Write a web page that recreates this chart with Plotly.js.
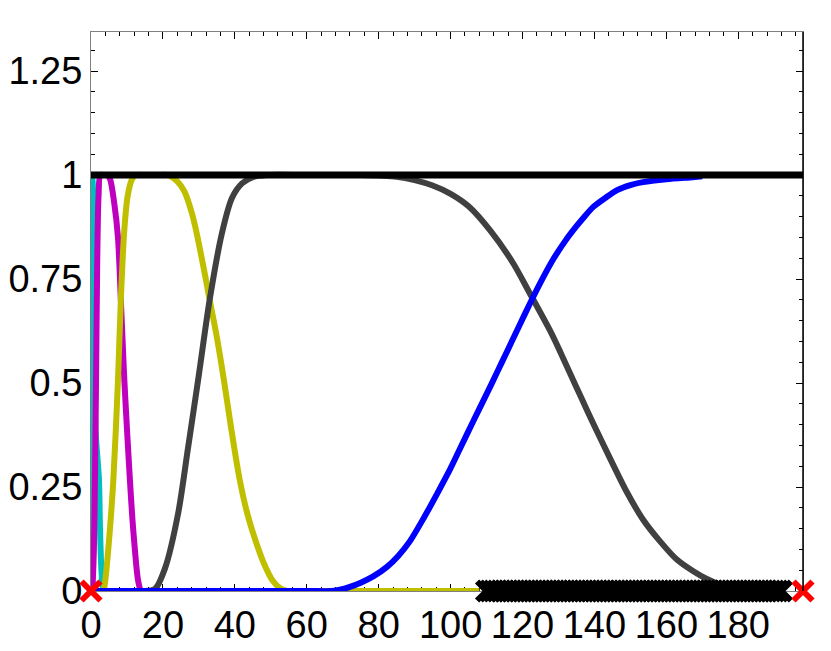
<!DOCTYPE html>
<html>
<head>
<meta charset="utf-8">
<script src="https://cdn.plot.ly/plotly-3.0.1.min.js"></script>
<style>html,body{margin:0;padding:0;background:#fff;}#chart{width:831px;height:651px;}</style>
</head>
<body>
<div id="chart"></div>
<script>
// ---- data ----
const cyanX = [0, 0.05, 0.4, 0.7, 0.9, 1.3, 2.2, 2.5, 2.9, 3.3, 3.8];
const cyanY = [0, 1, 0.99, 0.75, 0.5, 0.38, 0.27, 0.15, 0.05, 0.01, 0];

const magentaX = [0.4, 0.8, 1.1, 1.4, 1.7, 2.1, 2.6, 3.5, 4.5, 5.3, 6.5, 7.5, 8.3, 9.2, 10.0, 10.8, 11.5, 12.2, 13.1, 14, 16];
const magentaY = [0, 0.1, 0.27, 0.5, 0.77, 0.95, 1, 1, 1, 0.99, 0.93, 0.85, 0.7, 0.52, 0.39, 0.27, 0.175, 0.1, 0.025, 0, 0];

const yellowX = [3.5, 3.9, 5, 6.2, 7.5, 8.3, 9.2, 10.2, 11.4, 12.5, 15, 18, 21.4, 24, 26, 28, 29.4, 31.7, 33, 35, 37, 39, 41.3, 43.5, 46, 48.4, 50.5, 52.5, 54.5, 60, 80, 100, 108];
const yellowY = [0, 0.02, 0.12, 0.265, 0.506, 0.7, 0.86, 0.95, 0.99, 1, 1, 1, 1, 0.985, 0.96, 0.91, 0.86, 0.76, 0.7, 0.61, 0.505, 0.39, 0.27, 0.185, 0.115, 0.06, 0.025, 0.007, 0, 0, 0, 0, 0];

const grayX = [15, 17.8, 20.6, 24.2, 27, 30, 33, 36.4, 39.2, 42, 45, 49, 60, 75, 85, 90, 95, 100, 105, 111, 117.4, 122, 127.6, 130.6, 133.5, 136, 139.6, 144, 149, 153.5, 158.2, 163, 167.4, 171, 175, 180, 185];
const grayY = [0, 0.005, 0.055, 0.185, 0.345, 0.52, 0.7, 0.86, 0.945, 0.98, 0.995, 1, 1, 1, 0.996, 0.988, 0.975, 0.955, 0.925, 0.867, 0.788, 0.716, 0.627, 0.573, 0.518, 0.471, 0.404, 0.325, 0.238, 0.172, 0.12, 0.075, 0.048, 0.03, 0.015, 0.003, 0];

const blueX = [0, 20, 40, 60, 67, 69.2, 72, 75, 78.5, 82.3, 85.5, 88.7, 92.5, 96.2, 99.4, 102.6, 106.4, 110.1, 113, 115.7, 119, 122, 125.2, 128.5, 132, 135, 137.5, 139.6, 143, 146.3, 150, 153.5, 160, 167.4, 170];
const blueY = [0, 0, 0, 0, 0, 0.003, 0.01, 0.02, 0.035, 0.058, 0.085, 0.12, 0.175, 0.233, 0.285, 0.342, 0.41, 0.475, 0.527, 0.576, 0.636, 0.69, 0.745, 0.797, 0.843, 0.877, 0.903, 0.923, 0.945, 0.964, 0.976, 0.983, 0.99, 0.995, 0.997];

const totalX = [0, 198];
const totalY = [1, 1];

const blackMarkX = [110,111,112,113,114,115,116,117,118,119,120,121,122,123,124,125,126,127,128,129,130,131,132,133,134,135,136,137,138,139,140,141,142,143,144,145,146,147,148,149,150,151,152,153,154,155,156,157,158,159,160,161,162,163,164,165,166,167,168,169,170,171,172,173,174,175,176,177,178,179,180,181,182,183,184,185,186,187,188,189,190,191,192];
const blackMarkY = blackMarkX.map(() => 0);

const redMarkX = [0, 198];
const redMarkY = [0, 0];

const xTickVals = [0, 20, 40, 60, 80, 100, 120, 140, 160, 180];
const yTickVals = [0, 0.25, 0.5, 0.75, 1, 1.25];
const yTickText = ['0', '0.25', '0.5', '0.75', '1', '1.25'];

// ---- traces ----
function lineTrace(x, y, color, width) {
  return {x: x, y: y, mode: 'lines', type: 'scatter',
          line: {color: color, width: width, shape: 'spline', smoothing: 0.8}, hoverinfo: 'skip'};
}
const traces = [
  lineTrace(cyanX, cyanY, '#00bfbf', 6),
  lineTrace(magentaX, magentaY, '#bf00bf', 6),
  lineTrace(yellowX, yellowY, '#bfbf00', 6),
  lineTrace(grayX, grayY, '#404040', 6),
  lineTrace(blueX, blueY, '#0000ff', 6),
  {x: totalX, y: totalY, mode: 'lines', type: 'scatter', line: {color: '#000', width: 7}},
  {x: blackMarkX, y: blackMarkY, mode: 'markers', type: 'scatter', cliponaxis: false,
   marker: {symbol: 'x-thin', size: 19, color: '#000', line: {color: '#000', width: 6}}},
  {x: redMarkX, y: redMarkY, mode: 'markers', type: 'scatter', cliponaxis: false,
   marker: {symbol: 'x-thin', size: 19, color: '#ff0000', line: {color: '#ff0000', width: 6}}}
];

const font = {family: 'Liberation Sans, Arial, sans-serif', size: 38, color: '#000'};

const layout = {
  width: 831, height: 651,
  margin: {l: 91, r: 28, t: 32, b: 60},
  paper_bgcolor: '#fff', plot_bgcolor: '#fff',
  showlegend: false,
  xaxis: {
    range: [0, 198], tickvals: xTickVals, ticks: 'inside', ticklen: 7, tickcolor: '#000', tickwidth: 1,
    minor: {dtick: 4, tick0: 0, ticks: 'inside', ticklen: 4, tickcolor: '#000'},
    showline: true, linecolor: '#808080', linewidth: 1, mirror: 'ticks',
    showgrid: false, zeroline: false, tickfont: font, layer: 'below traces'
  },
  yaxis: {
    range: [0, 1.344], tickvals: yTickVals, ticktext: yTickText, ticks: 'inside', ticklen: 7, tickcolor: '#000', tickwidth: 1,
    minor: {dtick: 0.05, tick0: 0, ticks: 'inside', ticklen: 4, tickcolor: '#000'},
    showline: true, linecolor: '#808080', linewidth: 1, mirror: 'ticks',
    showgrid: false, zeroline: false, tickfont: font, layer: 'below traces'
  },
  shapes: [
    {type: 'line', xref: 'paper', yref: 'paper', x0: 1, x1: 1, y0: 0, y1: 1, line: {color: '#000', width: 1.5}, layer: 'above'}
  ]
};

Plotly.newPlot('chart', traces, layout, {staticPlot: true, displayModeBar: false});
</script>
</body>
</html>
